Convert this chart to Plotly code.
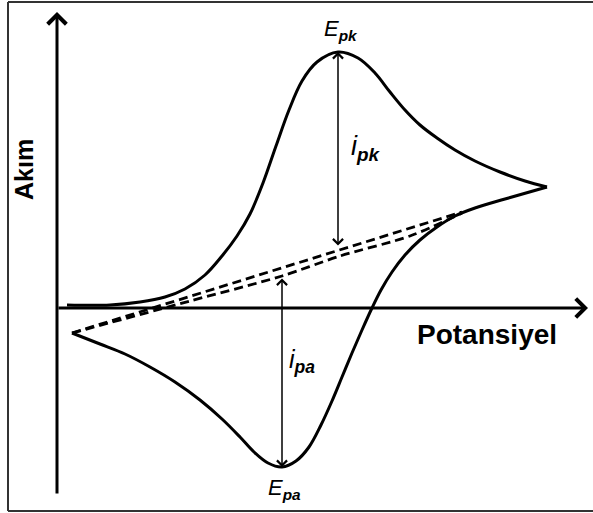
import plotly.graph_objects as go

# Cyclic voltammogram sketch: potential (E) vs current (i), arbitrary units
# Forward scan (cathodic peak E_pk)
fwd_E = [10, 53, 83, 108, 128, 148, 165, 180, 193, 206, 219, 232, 245, 260, 281,
         301, 318, 333, 348, 363, 380, 398, 418, 443, 468, 490]
fwd_i = [3, 3, 6, 11, 19, 33, 52, 72, 94, 125, 162, 198, 227, 246, 256,
         250, 235, 216, 198, 183, 170, 158, 147, 136, 127, 121]

# Reverse scan (anodic peak E_pa)
rev_E = [490, 448, 418, 398, 380, 363, 348, 335, 324, 315, 305, 295, 285, 275,
         264, 252, 239, 225, 211, 197, 183, 165, 143, 118, 93, 68, 43, 15]
rev_i = [121, 109, 100, 92, 81, 68, 53, 36, 18, 0, -22, -45, -69, -93,
         -117, -139, -153, -159, -155, -144, -129, -111, -92, -74, -59, -46, -36, -25]

# Extrapolated baselines
base_hi_E = [15, 405]
base_hi_i = [-25, 96]
base_lo_E = [15, 133, 225, 283, 353, 405]
base_lo_i = [-25, 7, 32, 52, 72, 95]

# Peak positions and baseline current at each peak
E_pk, i_pk_top, i_pk_base = 281, 256, 61
E_pa, i_pa_bot, i_pa_base = 225, -159, 31

fig = go.Figure()

line_style = dict(color="black", width=3, shape="spline", smoothing=1.0)
fig.add_trace(go.Scatter(x=fwd_E, y=fwd_i, mode="lines", line=line_style))
fig.add_trace(go.Scatter(x=rev_E, y=rev_i, mode="lines", line=line_style))
fig.add_trace(go.Scatter(x=base_hi_E, y=base_hi_i, mode="lines",
                         line=dict(color="black", width=2.8, dash="9px,5px")))
fig.add_trace(go.Scatter(x=base_lo_E, y=base_lo_i, mode="lines",
                         line=dict(color="black", width=2.8, dash="9px,5px",
                                   shape="spline", smoothing=0.8)))

annotations = []

# Axis arrows
annotations.append(dict(x=0, y=296, ax=0, ay=-187, xref="x", yref="y", axref="x", ayref="y",
                        text="", showarrow=True, arrowhead=4, arrowsize=1.2, arrowwidth=3,
                        arrowcolor="black", standoff=0, startstandoff=0))
annotations.append(dict(x=531, y=0, ax=0, ay=0, xref="x", yref="y", axref="x", ayref="y",
                        text="", showarrow=True, arrowhead=4, arrowsize=1.2, arrowwidth=3,
                        arrowcolor="black", standoff=0, startstandoff=0))

# Peak current arrows
for xe, y1, y2 in [(E_pk, i_pk_top, i_pk_base), (E_pa, i_pa_bot, i_pa_base)]:
    annotations.append(dict(x=xe, y=y1, ax=xe, ay=y2, xref="x", yref="y", axref="x", ayref="y",
                            text="", showarrow=True, arrowhead=4, startarrowhead=4,
                            arrowside="end+start", arrowsize=1.3, startarrowsize=1.3,
                            arrowwidth=1.5, arrowcolor="black", standoff=0, startstandoff=0))

font = "Liberation Sans, Arial, sans-serif"
labels = [
    dict(x=-33, y=138, text="<b>Akım</b>", textangle=-90, size=25, xanchor="center", yanchor="middle"),
    dict(x=358, y=-26, text="<b>Potansiyel</b>", textangle=0, size=28, xanchor="left", yanchor="middle"),
    dict(x=265, y=278, text="<i>E</i><sub><b><i>pk</i></b></sub>", textangle=0, size=22,
         xanchor="left", yanchor="middle"),
    dict(x=292, y=160, text="<i>i</i><sub><b><i>pk</i></b></sub>", textangle=0, size=27,
         xanchor="left", yanchor="middle"),
    dict(x=230, y=-53, text="<i>i</i><sub><b><i>pa</i></b></sub>", textangle=0, size=25,
         xanchor="left", yanchor="middle"),
    dict(x=209, y=-181, text="<i>E</i><sub><b><i>pa</i></b></sub>", textangle=0, size=22,
         xanchor="left", yanchor="middle"),
]
for lb in labels:
    annotations.append(dict(x=lb["x"], y=lb["y"], xref="x", yref="y", text=lb["text"],
                            showarrow=False, textangle=lb["textangle"],
                            xanchor=lb["xanchor"], yanchor=lb["yanchor"],
                            font=dict(family=font, size=lb["size"], color="black")))

# Frame
frame = dict(color="#333333", width=2)
shapes = [
    dict(type="line", xref="x", yref="y", x0=-49, x1=-49, y0=306, y1=-203, line=frame),
    dict(type="line", xref="x", yref="y", x0=-49, x1=540, y0=306, y1=306, line=frame),
    dict(type="line", xref="x", yref="y", x0=-49, x1=540, y0=-203, y1=-203, line=frame),
]

fig.update_layout(
    width=593, height=513,
    margin=dict(l=0, r=0, t=0, b=0),
    paper_bgcolor="white", plot_bgcolor="white",
    showlegend=False,
    xaxis=dict(range=[-57, 536], visible=False, fixedrange=True),
    yaxis=dict(range=[-205, 308], visible=False, fixedrange=True),
    annotations=annotations,
    shapes=shapes,
)

fig.write_html("out.html")
